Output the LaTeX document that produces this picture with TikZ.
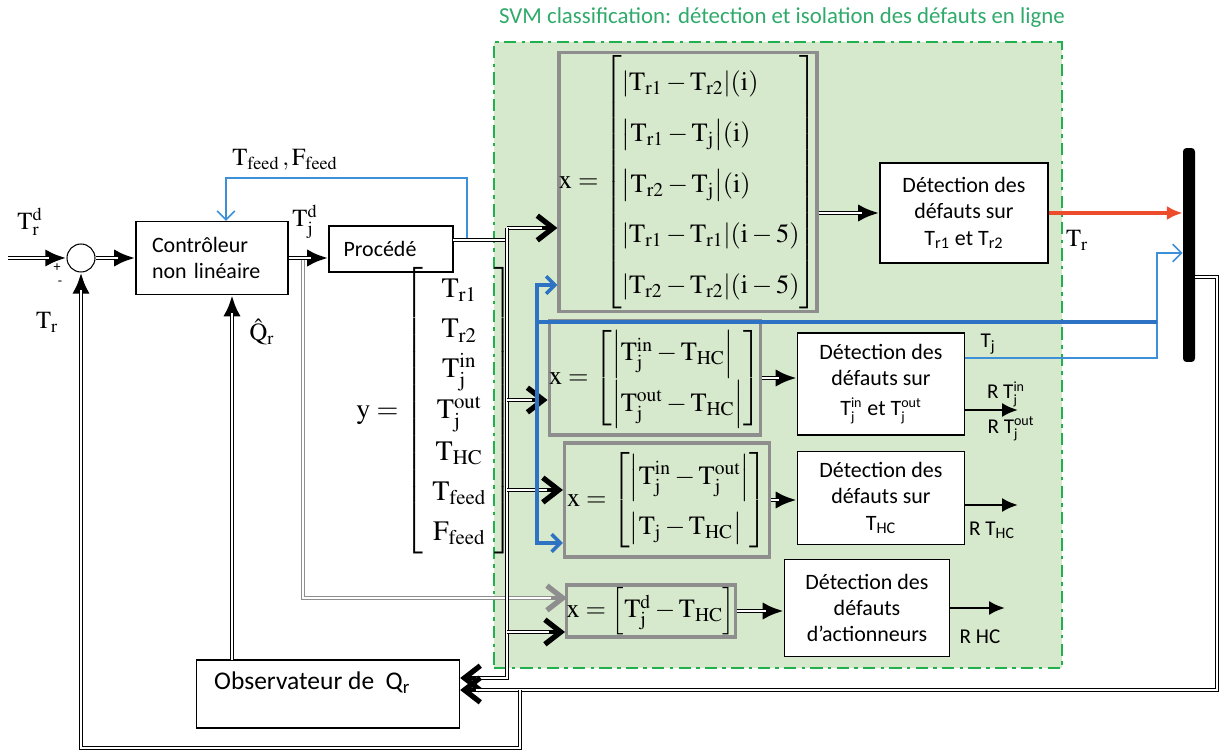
\documentclass[tikz,border=0pt]{standalone}
\usepackage{mathptmx}
\usepackage[no-math]{fontspec}
\setmainfont{Carlito}
\usetikzlibrary{arrows.meta,positioning,calc}
\definecolor{SvmFill}{HTML}{D7E9CC}
\definecolor{SvmLine}{HTML}{22B04E}
\definecolor{SvmText}{HTML}{2FAA6A}
\definecolor{FaultRed}{HTML}{EC4B2C}
\definecolor{InfoBlue}{HTML}{2E72C4}
\definecolor{LightBlue}{HTML}{3D8FD8}
\definecolor{BoxGray}{HTML}{8E8E8E}
\newcommand{\Tv}[1]{\mathrm{T}_{\mathrm{#1}}}
\newcommand{\Tj}[1]{\mathrm{T}_{\mathrm{j}}^{\mathrm{#1}}}
\newcommand{\absv}[1]{{\left|#1\right|}}
\newcommand{\jsub}[1]{$_{\mbox{\footnotesize j}}^{\mbox{\footnotesize #1}}$}
\tikzset{
  chev/.tip={Straight Barb[length=9pt,width=14pt,line width=3pt]},
  bigtip/.tip={Latex[length=12pt,width=10pt]},
  svmzone/.style={fill=SvmFill, draw=SvmLine, line width=1.3pt,
    dash pattern=on 7pt off 3pt on 2pt off 3pt, inner sep=0pt},
  blk/.style={draw, fill=white, line width=.8pt, align=center, inner sep=2pt,
    font=\fontsize{12.5}{15}\selectfont},
  xbox/.style={draw=BoxGray, line width=1.8pt, inner sep=0pt,
    font=\fontsize{15}{18}\selectfont},
  lbl/.style={font=\fontsize{14}{16}\selectfont},
  rlbl/.style={font=\fontsize{12}{14}\selectfont},
  dline/.style={line width=2.8pt,
    postaction={draw=white, line width=.9pt, arrows=-, shorten >=#1}},
  dline/.default=0pt,
  gline/.style={draw=BoxGray, line width=2.6pt,
    postaction={draw=white, line width=.8pt, arrows=-, shorten >=9pt}},
  thinblue/.style={draw=LightBlue, line width=.9pt},
  thickblue/.style={draw=InfoBlue, line width=2pt},
  outarr/.style={line width=1.6pt, -{Latex[length=9pt,width=8pt]}}
}
\begin{document}
\begin{tikzpicture}[x=.02cm,y=-.02cm]
\useasboundingbox (0,0) rectangle (1221,756);
% zone SVM
\node[svmzone, minimum width=11.36cm, minimum height=12.52cm] (svm) at (778,355) {};
\node[text=SvmText, font=\fontsize{13}{15}\selectfont] (title) at (782,18)
  {SVM classification: détection et isolation des défauts en ligne};

% boucle de commande
\node[draw, circle, fill=white, line width=.6pt, minimum size=.56cm] (sum) at (81,258) {};
\node[blk, minimum width=3.04cm, minimum height=1.46cm, text width=2.4cm, align=left] (ctrl) at (212,258)
  {Contrôleur\\non linéaire};
\node[blk, minimum width=2.48cm, minimum height=.92cm, text width=1.9cm, align=left] (proc) at (391,249) {Procédé};
\node[blk, minimum width=5.26cm, minimum height=1.36cm] (obs) at (328,694) {};
\node[font=\fontsize{14.5}{17}\selectfont, anchor=west] (obstxt) at (208,683)
  {Observateur de\ \ Q\textsubscript{r}};

% vecteur de mesures
\node[font=\fontsize{16}{19}\selectfont] (yvec) at (435,411)
  {\renewcommand\arraystretch{1.2}$\mathrm{y}=\left[\begin{array}{c}
    \Tv{r1}\\ \Tv{r2}\\ \Tj{in}\\ \Tj{out}\\ \Tv{HC}\\ \Tv{feed}\\ \mathrm{F}_{\mathrm{feed}}
  \end{array}\right]$};

% classifieurs
\node[xbox, minimum width=5.14cm, minimum height=5.18cm] (xa) at (688,182)
  {\renewcommand\arraystretch{1.6}$\mathrm{x}=\left[\begin{array}{@{}l@{}}
    \absv{\Tv{r1}-\Tv{r2}}(\mathrm{i})\\
    \absv{\Tv{r1}-\Tv{j}}(\mathrm{i})\\
    \absv{\Tv{r2}-\Tv{j}}(\mathrm{i})\\
    \absv{\Tv{r1}-\Tv{r1}}(\mathrm{i}-5)\\
    \absv{\Tv{r2}-\Tv{r2}}(\mathrm{i}-5)
  \end{array}\right]$};
\node[xbox, minimum width=4.18cm, minimum height=2.28cm] (xb) at (655,378)
  {\renewcommand\arraystretch{1.5}$\mathrm{x}=\left[\begin{array}{@{}l@{}}
    \absv{\Tj{in}-\Tv{HC}}\\ \absv{\Tj{out}-\Tv{HC}}
  \end{array}\right]$};
\node[xbox, minimum width=4.1cm, minimum height=2.28cm] (xc) at (667,500)
  {\renewcommand\arraystretch{1.5}$\mathrm{x}=\left[\begin{array}{@{}l@{}}
    \absv{\Tj{in}-\Tj{out}}\\ \absv{\Tv{j}-\Tv{HC}}
  \end{array}\right]$};
\node[xbox, minimum width=3.36cm, minimum height=1.04cm] (xd) at (651,611)
  {$\mathrm{x}=\left[\Tj{d}-\Tv{HC}\right]$};

% detection
\node[blk, minimum width=3.36cm, minimum height=2cm] (deta) at (964,213)
  {Détection des\\défauts sur\\T\textsubscript{r1} et T\textsubscript{r2}};
\node[blk, minimum width=3.34cm, minimum height=2.04cm] (detb) at (881,384)
  {Détection des\\défauts sur\\[2pt]T\jsub{in} et T\jsub{out}};
\node[blk, minimum width=3.34cm, minimum height=1.86cm] (detc) at (881,498)
  {Détection des\\défauts sur\\T\textsubscript{HC}};
\node[blk, minimum width=3.3cm, minimum height=1.94cm] (detd) at (867,608)
  {Détection des\\défauts\\d’actionneurs};
\node[fill=black, rounded corners=2pt, inner sep=0pt,
  minimum width=.24cm, minimum height=4.28cm] (bar) at (1189,255) {};

% labels
\node[lbl] (lTrd) at (30,222) {$\mathrm{T}_{\mathrm{r}}^{\mathrm{d}}$};
\node[font=\footnotesize] (lplus) at (57,268) {+};
\node[font=\footnotesize] (lminus) at (60,283) {-};
\node[lbl] (lTr) at (47,322) {$\Tv{r}$};
\node[lbl] (lTjd) at (305,222) {$\Tj{d}$};
\node[lbl] (lfeed) at (285,160) {$\Tv{feed}\,,\mathrm{F}_{\mathrm{feed}}$};
\node[lbl] (lQ) at (262,332) {$\hat{\mathrm{Q}}_{\mathrm{r}}$};
\node[lbl] (lTrOut) at (1077,240) {$\Tv{r}$};
\node[rlbl] (lTj) at (988,344) {T\textsubscript{j}};
\node[rlbl] (lRin) at (1006,394) {R T\jsub{in}};
\node[rlbl] (lRout) at (1011,429) {R T\jsub{out}};
\node[rlbl] (lRhc) at (992,530) {R T\textsubscript{HC}};
\node[rlbl] (lRact) at (980,637) {R HC};

% points de passage
\coordinate (in) at (8,258);
\coordinate (tjd) at (303,258);
\coordinate (gEnd) at (567,598);
\coordinate (pout) at (453,240);
\coordinate (bj) at (507,240);
\coordinate (busT) at (507,228);
\coordinate (busB) at (507,678);
\coordinate (bB) at (507,400);
\coordinate (bC) at (507,490);
\coordinate (bD) at (507,632);
\coordinate (oq) at (232,660);
\coordinate (rTop) at (1217,277);
\coordinate (rBot) at (1217,690);
\coordinate (lj) at (520,690);
\coordinate (lBot) at (520,748);
\coordinate (sBot) at (81,748);
\coordinate (fb) at (467,240);
\coordinate (fTop) at (467,178);
\coordinate (fL) at (226,178);
\coordinate (tjo) at (965,358);
\coordinate (jx) at (1157,358);
\coordinate (jTop) at (1157,253);
\coordinate (kR) at (1157,322);
\coordinate (kL) at (537,322);
\coordinate (kTop) at (537,285);
\coordinate (kBot) at (537,543);
\coordinate (rinE) at (1018,410);
\coordinate (rhcE) at (1018,505);
\coordinate (ractE) at (1005,608);

% liaisons
\draw[dline=10pt, -bigtip] (in) -- (sum);
\draw[dline=10pt, -bigtip] (sum) -- (ctrl);
\draw[gline, -{Straight Barb[length=9pt,width=14pt,line width=3pt]}] (tjd) |- (gEnd);
\draw[dline=10pt, -bigtip] (ctrl.east) -- (ctrl.east -| proc.west);
\draw[thinblue, -{Straight Barb[length=5pt,width=10pt]}] (fb) -- (fTop) -- (fL) -- (fL |- ctrl.north);
\draw[dline] (pout) -- (bj);
\draw[dline=9pt, -chev] (busT) -- (xa.west |- busT);
\draw[dline=9pt, -chev] (busT) -- (busB) -- (obs.east |- busB);
\draw[dline=9pt, -chev] (bB) -- (xb.west |- bB);
\draw[dline=9pt, -chev] (bC) -- (xc.west |- bC);
\draw[dline=9pt, -chev] (bD) -- (xd.west |- bD);
\draw[dline=10pt, -bigtip] (oq) -- (oq |- ctrl.south);
\draw[dline=9pt, -chev] (bar.east |- rTop) -- (rTop) -- (rBot) -- (obs.east |- rBot);
\draw[dline=10pt, -bigtip] (lj) -- (lBot) -- (sBot) -- (sum.south);

\draw[dline=10pt, -bigtip] (xa.east |- deta.west) -- (deta.west);
\draw[dline=10pt, -bigtip] (xb.east) -- (xb.east -| detb.west);
\draw[dline=10pt, -bigtip] (xc.east) -- (xc.east -| detc.west);
\draw[dline=10pt, -bigtip] (xd.east) -- (xd.east -| detd.west);

\draw[FaultRed, line width=2pt, -{Latex[length=9pt,width=8pt]}] (deta.east) -- (deta.east -| bar.west);
\draw[thinblue, -{Straight Barb[length=5pt,width=10pt]}] (tjo) -- (jx) -- (jTop) -- (jTop -| bar.west);
\draw[thickblue] (kR) -- (kL);
\draw[thickblue, -{Straight Barb[length=5pt,width=10pt]}] (kL) -- (kTop) -- (kTop -| xa.west);
\draw[thickblue, -{Straight Barb[length=5pt,width=10pt]}] (kL) -- (kBot) -- (kBot -| xc.west);

\draw[outarr] (rinE -| detb.east) -- (rinE);
\draw[outarr] (rhcE -| detc.east) -- (rhcE);
\draw[outarr] (ractE -| detd.east) -- (ractE);
\end{tikzpicture}
\end{document}
